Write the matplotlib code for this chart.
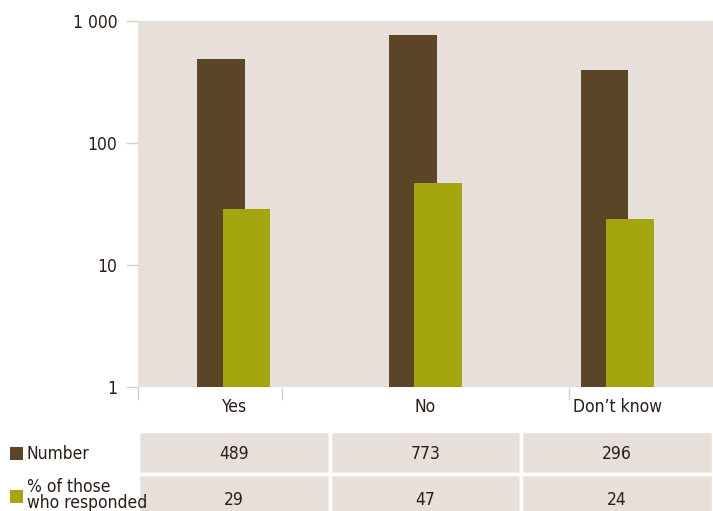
import numpy as np
import matplotlib.pyplot as plt
from matplotlib.patches import Rectangle
from matplotlib.ticker import FixedLocator, FuncFormatter

# data
categories = ['Yes', 'No', 'Don\u2019t know']
number = [489, 773, 296]
pct_responded = [29, 47, 24]
# bar heights as drawn in the picture (the "Don't know" bar sits near 400)
number_bars = [489, 773, 400]
pct_bars = [29, 47, 24]
row_labels = ['Number', '% of those\nwho responded']

brown = '#5c4527'
olive = '#a3a60f'
bg = '#e7e0da'
txt = '#2b1d17'
tickc = '#d5d0cb'
fs = 12.5

plt.rcParams['font.family'] = ['DejaVu Sans']
plt.rcParams['font.stretch'] = 'condensed'

fig = plt.figure(figsize=(7.13, 5.11), dpi=100)
ax = fig.add_axes([138/713, 1 - 387/511, 1 - 138/713, 366/511])
ax.set_facecolor(bg)

x = np.arange(len(categories))
w = 0.25
ax.bar(x - 0.066, number_bars, w, color=brown, zorder=2)
ax.bar(x + 0.066, pct_bars, w, color=olive, zorder=3)

ax.set_yscale('log')
ax.set_ylim(1, 1000)
ax.set_xlim(-0.5, 2.5)
ax.yaxis.set_major_locator(FixedLocator([1, 10, 100, 1000]))
ax.yaxis.set_minor_locator(FixedLocator([]))
ax.yaxis.set_major_formatter(FuncFormatter(lambda v, p: f'{int(v):,}'.replace(',', ' ')))
ax.tick_params(axis='y', length=9, width=1, color=tickc, labelsize=fs, labelcolor=txt, pad=6)

ax.set_xticks(x)
ax.set_xticklabels(categories)
ax.tick_params(axis='x', length=0, labelsize=fs, labelcolor=txt, pad=8)
ax.set_xticks([-0.5, 0.25, 1.0, 1.75], minor=True)
ax.tick_params(axis='x', which='minor', length=9, width=1, color=tickc)
for s in ax.spines.values():
    s.set_visible(False)

# table below
tab = fig.add_axes([138/713, -6/511, 1 - 138/713, 86/511])
tab.set_xlim(-0.5, 2.5)
tab.set_ylim(0, 2)
tab.axis('off')
rows = [number, pct_responded]
for r, vals in enumerate(rows):
    yb = 1 - r
    for c, v in enumerate(vals):
        tab.add_patch(Rectangle((c - 0.5, yb), 1, 1, facecolor=bg, edgecolor='white', linewidth=2.5))
        tab.text(c, yb + 0.5 - (0.1 if r == 1 else 0.03), str(v), ha='center', va='center',
                 fontsize=fs, color=txt)

# row labels with legend squares
fig.patches.append(Rectangle((10/713, 1 - 460/511), 13/713, 13/511, facecolor=brown,
                             transform=fig.transFigure, figure=fig))
fig.text(27/713, 1 - 454/511, row_labels[0], ha='left', va='center', fontsize=fs, color=txt)
fig.patches.append(Rectangle((10/713, 1 - 503/511), 13/713, 13/511, facecolor=olive,
                             transform=fig.transFigure, figure=fig))
fig.text(27/713, 1 - 495/511, row_labels[1], ha='left', va='center', fontsize=fs, color=txt,
         linespacing=0.8)

fig.savefig('out.png', dpi=100)
